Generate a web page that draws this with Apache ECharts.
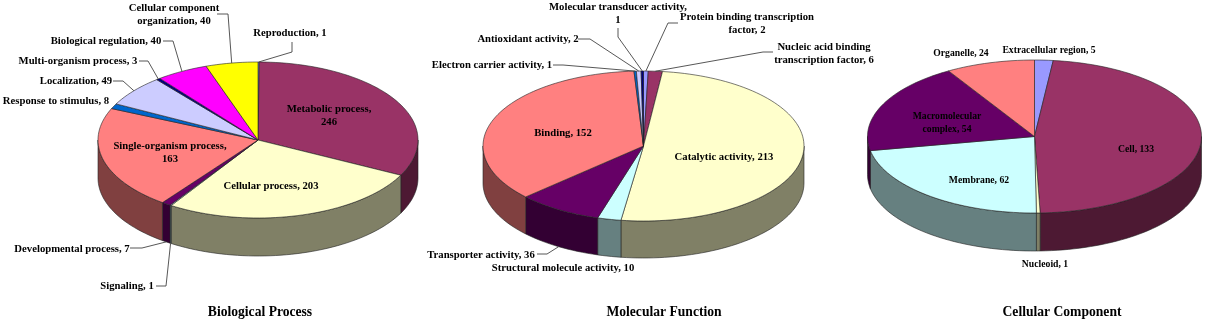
<!DOCTYPE html>
<html><head><meta charset="utf-8">
<style>html,body{margin:0;padding:0;background:#fff}#c{width:1205px;height:322px}</style>
<script src="https://cdn.jsdelivr.net/npm/echarts@6/dist/echarts.min.js"></script>
</head><body><div id="c"></div>
<script>
// ---- data ----
const bpCategories = ['Reproduction','Metabolic process','Cellular process','Signaling','Developmental process','Single-organism process','Response to stimulus','Localization','Multi-organism process','Biological regulation','Cellular component organization'];
const bpValues = [1,246,203,1,7,163,8,49,3,40,40];
const mfCategories = ['Protein binding transcription factor','Nucleic acid binding transcription factor','Catalytic activity','Structural molecule activity','Transporter activity','Binding','Electron carrier activity','Antioxidant activity','Molecular transducer activity'];
const mfValues = [2,6,213,10,36,152,1,2,1];
const ccCategories = ['Extracellular region','Cell','Nucleoid','Membrane','Macromolecular complex','Organelle'];
const ccValues = [5,133,1,62,54,24];
const chartTitles = ['Biological Process','Molecular Function','Cellular Component'];

// ---- styles and layout ----
const palette = ['#9999FF','#993366','#FFFFCC','#CCFFFF','#660066','#FF8080','#0066CC','#CCCCFF','#000080','#FF00FF','#FFFF00'];
const sidePalette = ['#4D4D80','#4D1933','#808066','#668080','#330033','#804040','#003366','#666680','#000040','#800080','#808000'];
const FONT = '"Liberation Serif","Times New Roman",serif';
const pies = [
 {cats:bpCategories, vals:bpValues, cx:258, cy:140, rx:160, ry:78, d:38, titleX:260, size:10.7,
  labels:[
   [['Reproduction, 1'],290,33,[[292,42],[292,52]],0],
   [['Metabolic process,','246'],329,109],
   [['Cellular process, 203'],271,186],
   [['Signaling, 1'],127,286,[[156,286],[166,286]],1],
   [['Developmental process, 7'],72,249,[[130,248],[142,248]],1],
   [['Single-organism process,','163'],170,146],
   [['Response to stimulus, 8'],56,101],
   [['Localization, 49'],76,81,[[113,81],[123,81]],0],
   [['Multi-organism process, 3'],78,61,[[139,61],[148,61]],0],
   [['Biological regulation, 40'],106,41,[[163,41],[173,41]],0],
   [['Cellular component','organization, 40'],174,8,[[217,14],[228,14]],0]
  ]},
 {cats:mfCategories, vals:mfValues, cx:643.5, cy:146, rx:160.5, ry:75, d:37, titleX:664, size:10.7,
  labels:[
   [['Protein binding transcription','factor, 2'],747,17,[[678,23],[668,23]],0],
   [['Nucleic acid binding','transcription factor, 6'],824,47,[[773,52],[763,52]],0],
   [['Catalytic activity, 213'],724,157],
   [['Structural molecule activity, 10'],563,268],
   [['Transporter activity, 36'],481,255,[[537,254],[547,254]],1],
   [['Binding, 152'],563,133],
   [['Electron carrier activity, 1'],492,65,[[553,65],[563,65]],0],
   [['Antioxidant activity, 2'],528,39.5,[[578,39],[590,39]],0],
   [['Molecular transducer activity,','1'],618,7,[[618,28],[618,37]],0]
  ]},
 {cats:ccCategories, vals:ccValues, cx:1034.5, cy:136.5, rx:167, ry:76.5, d:38, titleX:1062, size:9.7,
  labels:[
   [['Extracellular region, 5'],1049,50],
   [['Cell, 133'],1136,149],
   [['Nucleoid, 1'],1045,264],
   [['Membrane, 62'],979,180],
   [['Macromolecular','complex, 54'],947,116],
   [['Organelle, 24'],961,53]
  ]}
];
const LINE_H = 13, TITLE_SIZE = 13.6, TITLE_TOP = 305;

function rim(p,deg,depth){const t=deg*Math.PI/180;return [p.cx+p.rx*Math.sin(t),p.cy-p.ry*Math.cos(t)+(depth||0)];}
function arc(p,a,b,depth){const n=Math.max(2,Math.ceil(Math.abs(b-a)/2)),o=[];for(let i=0;i<=n;i++)o.push(rim(p,a+(b-a)*i/n,depth));return o;}
function spans(p){const tot=p.vals.reduce((s,v)=>s+v,0);let c=0;return p.vals.map(v=>{const a=c/tot*360;c+=v;return [a,c/tot*360];});}

function sliceItem(p,sp){
 return function(params,api){
  const i=params.dataIndex,[a,b]=sp[i];
  const kids=[];
  const wa=Math.max(a,90),wb=Math.min(b,270);
  if(wb>wa){
   kids.push({type:'polygon',shape:{points:arc(p,wa,wb,0).concat(arc(p,wb,wa,p.d))},
    style:{fill:sidePalette[i],stroke:'#222',lineWidth:0.6}});
  }
  kids.push({type:'polygon',shape:{points:[[p.cx,p.cy]].concat(arc(p,a,b,0))},
   style:{fill:palette[i],stroke:'#222',lineWidth:0.6}});
  return {type:'group',children:kids};
 };
}
function labelItem(p,sp){
 return function(params,api){
  const i=params.dataIndex,l=p.labels[i],kids=[];
  l[0].forEach((s,k)=>kids.push({type:'text',style:{text:s,x:l[1],y:l[2]+k*LINE_H,align:'center',verticalAlign:'middle',
    font:'bold '+p.size+'px '+FONT,fill:'#000'}}));
  if(l[3]){
   const mid=(sp[i][0]+sp[i][1])/2;
   const end=rim(p,mid,l[4]*p.d);
   kids.push({type:'polyline',shape:{points:l[3].concat([end])},style:{fill:'none',stroke:'#444',lineWidth:0.9}});
  }
  return {type:'group',children:kids};
 };
}
const series=[];
pies.forEach(p=>{
 const sp=spans(p);
 const data=p.vals.map((v,i)=>({name:p.cats[i],value:[v]}));
 series.push({type:'custom',coordinateSystem:'none',silent:true,animation:false,clip:false,z:2,renderItem:sliceItem(p,sp),data});
 series.push({type:'custom',coordinateSystem:'none',silent:true,animation:false,clip:false,z:3,renderItem:labelItem(p,sp),data});
});
const chart=echarts.init(document.getElementById('c'),null,{renderer:'canvas',width:1205,height:322});
chart.setOption({
 backgroundColor:'#fff',animation:false,
 title:chartTitles.map((t,i)=>({text:t,left:pies[i].titleX,top:TITLE_TOP,padding:0,textAlign:'center',
   textStyle:{fontFamily:FONT,fontWeight:'bold',fontSize:TITLE_SIZE,color:'#000'}})),
 series
});
</script></body></html>
